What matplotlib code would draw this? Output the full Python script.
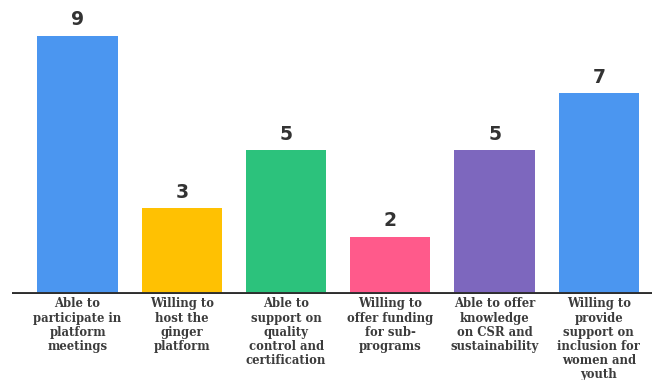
import matplotlib
matplotlib.use("Agg")
import matplotlib.pyplot as plt
import numpy as np

# data
labels = ["Able to\nparticipate in\nplatform\nmeetings",
          "Willing to\nhost the\nginger\nplatform",
          "Able to\nsupport on\nquality\ncontrol and\ncertification",
          "Willing to\noffer funding\nfor sub-\nprograms",
          "Able to offer\nknowledge\non CSR and\nsustainability",
          "Willing to\nprovide\nsupport on\ninclusion for\nwomen and\nyouth"]
counts = [9, 3, 5, 2, 5, 7]
colors = ["#4B96F0", "#FFC102", "#2CC27C", "#FF5A8B", "#7D67BE", "#4B96F0"]

fig = plt.figure(figsize=(6.52, 3.80), dpi=100)
ax = fig.add_axes([12 / 652, 86 / 380, 640 / 652, 294 / 380])

x = np.arange(len(counts))
bars = ax.bar(x, counts, width=0.77, color=colors, zorder=2)

for xi, c in zip(x, counts):
    ax.text(xi, c + 0.22, str(c), ha="center", va="bottom",
            fontsize=13.5, fontweight="bold", color="#333333",
            family="DejaVu Sans")

for xi, lab in zip(x, labels):
    ax.text(xi, -0.12, lab, ha="center", va="top", fontsize=8.4,
            fontweight="bold", color="#3c3c3c", family="DejaVu Serif",
            linespacing=1.12)

ax.set_xlim(-0.629, 5.51)
ax.set_ylim(0, 10.24)
ax.axhline(0, color="#2e2e2e", lw=2.8, zorder=3)
for s in ax.spines.values():
    s.set_visible(False)
ax.set_xticks([])
ax.set_yticks([])

fig.savefig("out.png", dpi=100)
